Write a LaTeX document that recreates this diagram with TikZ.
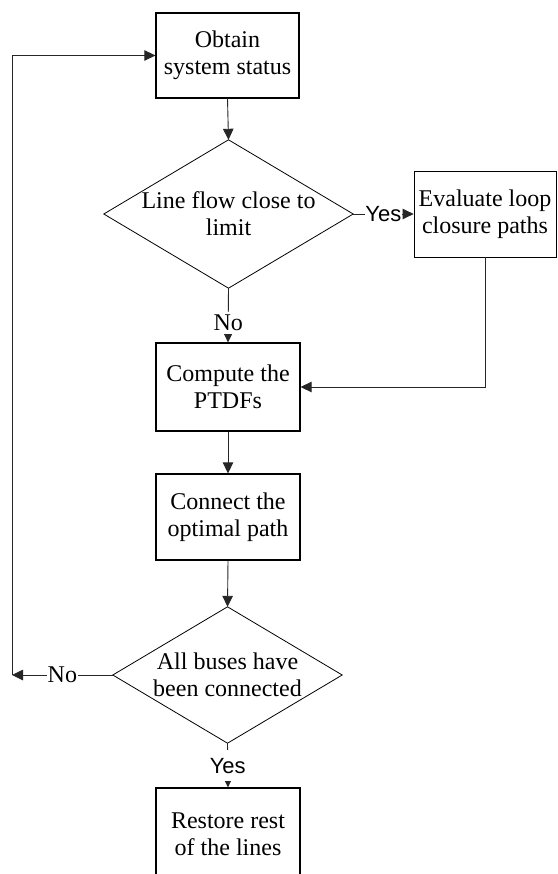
\documentclass[tikz,border=0pt]{standalone}
\usepackage{fontspec}
\setmainfont{Liberation Serif}
\newfontfamily\labelsans{Liberation Sans}
\usetikzlibrary{arrows.meta}
\begin{document}
\begin{tikzpicture}[x=1pt,y=-1pt,
  every node/.style={font=\fontsize{24}{27}\selectfont, align=center, inner sep=0pt},
  procbox/.style={draw, line width=1.2pt},
  thinbox/.style={draw, line width=0.8pt},
  decision/.style={line width=0.8pt},
  arr/.style={-{Triangle[length=11pt,width=10.5pt]}, line width=0.9pt, draw=black!85},
  yeslbl/.style={fill=white, font=\labelsans\fontsize{22}{22}\selectfont, inner xsep=0.5pt, inner ysep=8pt},
  nolbl/.style={fill=white, inner xsep=1pt, inner ysep=3pt}]
  \clip (0,0) rectangle (557,874);

  % process boxes
  \node[procbox, minimum width=143pt, minimum height=85pt] (obtain) at (227.5,55.5) {Obtain\\system status};
  \node[thinbox, minimum width=142pt, minimum height=86pt] (evaluate) at (485,214) {Evaluate loop\\closure paths};
  \node[procbox, minimum width=144pt, minimum height=88pt] (ptdf) at (228,387) {Compute the\\PTDFs};
  \node[procbox, minimum width=144pt, minimum height=86pt] (connect) at (228,517) {Connect the\\optimal path};
  \node[procbox, minimum width=144pt, minimum height=92pt] (restore) at (228,834) {Restore rest\\of the lines};

  % decisions: text nodes sized to the diamond, outline drawn through their anchors
  \node[minimum width=249pt, minimum height=148pt] (check) at (228.5,214) {Line flow close to\\limit};
  \draw[decision] (check.north) -- (check.east) -- (check.south) -- (check.west) -- cycle;
  \node[minimum width=229pt, minimum height=136pt] (done) at (227.5,675) {All buses have\\been connected};
  \draw[decision] (done.north) -- (done.east) -- (done.south) -- (done.west) -- cycle;

  \coordinate (back) at (12,675);

  % connectors
  \draw[arr] (obtain.south) -- (check.north);
  \draw[arr] (check.east) -- node[yeslbl]{Yes} (evaluate.west);
  \draw[arr] (check.south) -- node[nolbl, pos=0.645]{No} (ptdf.north);
  \draw[arr] (evaluate.south) |- (ptdf.east);
  \draw[arr] (ptdf.south) -- (connect.north);
  \draw[arr] (connect.south) -- (done.north);
  \draw[arr] (done.south) -- node[yeslbl, pos=0.51]{Yes} (restore.north);
  \draw[arr] (done.west) -- node[nolbl]{No} (back);
  \draw[arr] (back) |- (obtain.west);
\end{tikzpicture}
\end{document}
